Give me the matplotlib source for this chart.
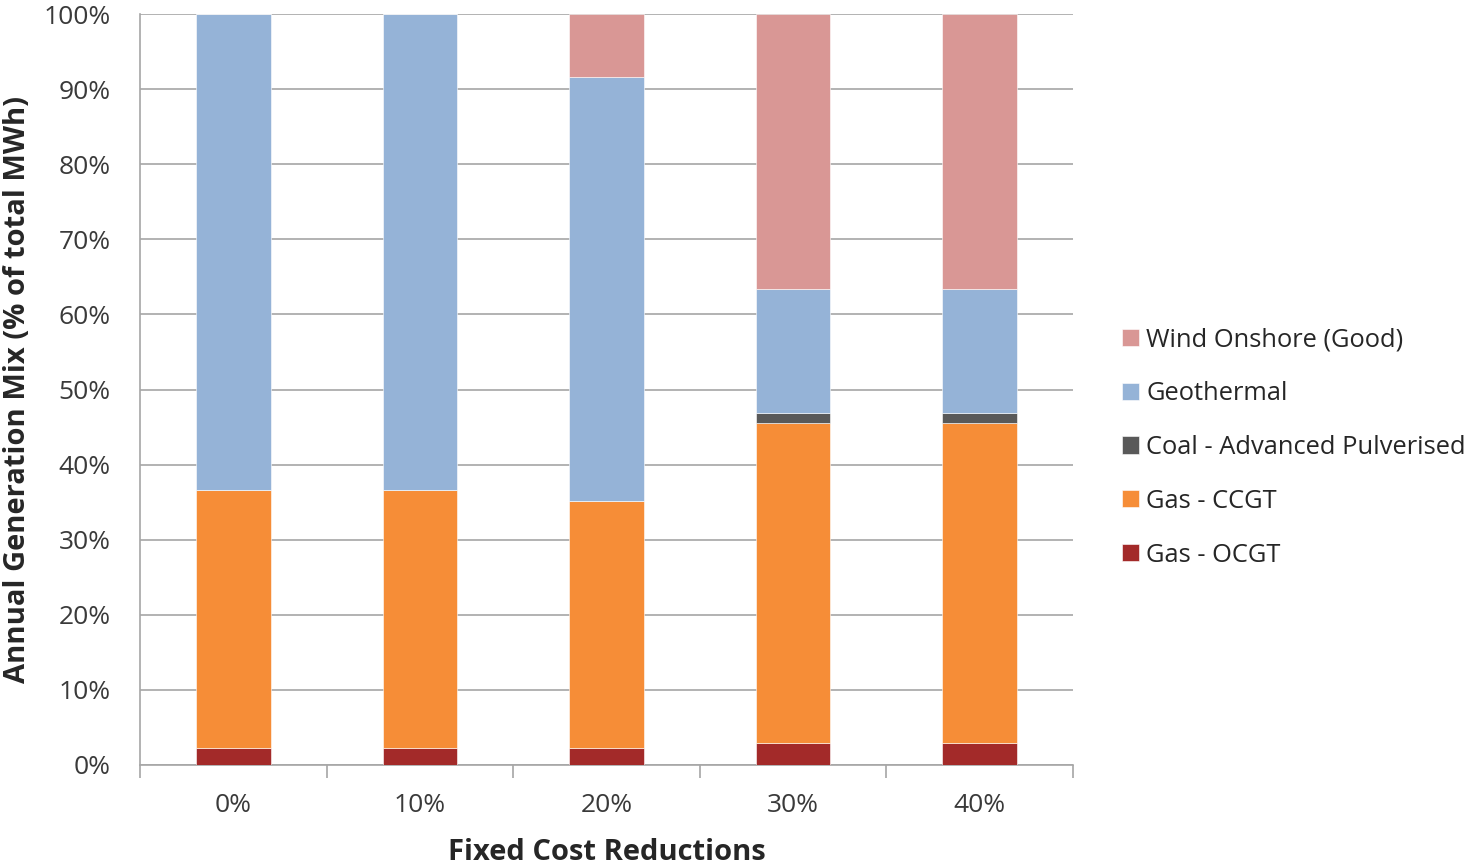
import matplotlib
matplotlib.use("Agg")
import matplotlib.pyplot as plt
import numpy as np

plt.rcParams['font.family'] = ['Open Sans', 'DejaVu Sans']

categories = ["0%", "10%", "20%", "30%", "40%"]
gas_ocgt = [2.3, 2.3, 2.3, 2.9, 2.9]
gas_ccgt = [34.3, 34.3, 32.8, 42.7, 42.7]
coal_apc = [0.0, 0.0, 0.0, 1.3, 1.3]
geothermal = [63.4, 63.4, 56.5, 16.5, 16.5]
wind_onshore = [0.0, 0.0, 8.4, 36.6, 36.6]

series = [
    ("Gas - OCGT", gas_ocgt, "#A32A29"),
    ("Gas - CCGT", gas_ccgt, "#F68D37"),
    ("Coal - Advanced Pulverised", coal_apc, "#595959"),
    ("Geothermal", geothermal, "#95B3D7"),
    ("Wind Onshore (Good)", wind_onshore, "#D99795"),
]

fig = plt.figure(figsize=(14.7, 8.67), dpi=100)
ax = fig.add_axes([140/1470, 1 - 765/867, (1073 - 140)/1470, (765 - 14)/867])

x = np.arange(len(categories))
bottom = np.zeros(len(categories))
handles = []
for name, vals, color in series:
    vals = np.array(vals, dtype=float)
    h = ax.bar(x, vals, width=0.4, bottom=bottom, color=color,
               edgecolor="white", linewidth=0.4, label=name, zorder=3)
    handles.append(h)
    bottom += vals

ax.set_xlim(-0.5, len(categories) - 0.5)
ax.set_ylim(0, 100)
ax.set_yticks(np.arange(0, 101, 10))
ax.set_yticklabels([f"{v}%" for v in range(0, 101, 10)])
ax.yaxis.grid(True, color="#A6A6A6", linewidth=1.2, zorder=0)
ax.set_axisbelow(True)

ax.set_xticks(x)
ax.set_xticklabels(categories)
ax.tick_params(axis="x", length=0, pad=20, labelsize=19)
ax.tick_params(axis="y", length=0, pad=21, labelsize=19)
for lbl in ax.get_xticklabels() + ax.get_yticklabels():
    lbl.set_color("#3a3a3a")

# category separator ticks below the baseline
ax.set_xticks(np.arange(-0.5, len(categories), 1.0), minor=True)
ax.tick_params(axis="x", which="minor", length=9, width=1.2, color="#A6A6A6", direction="out")

for side in ["top", "right"]:
    ax.spines[side].set_visible(False)
ax.spines["left"].set_color("#A6A6A6")
ax.spines["left"].set_linewidth(1.2)
ax.spines["bottom"].set_color("#A6A6A6")
ax.spines["bottom"].set_linewidth(1.2)

ax.set_xlabel("Fixed Cost Reductions", fontsize=21, fontweight="bold", color="#262626")
ax.xaxis.set_label_coords(0.5, -(852 - 765) / 751, transform=ax.transAxes)
ax.xaxis.label.set_verticalalignment("center")
ax.set_ylabel("Annual Generation Mix (% of total MWh)", fontsize=21, fontweight="bold",
              color="#262626")
ax.yaxis.set_label_coords((18 - 140) / 933, 0.5, transform=ax.transAxes)
ax.yaxis.label.set_verticalalignment("center")

leg = fig.legend(handles=handles[::-1], labels=[s[0] for s in series][::-1],
                 loc="upper left", bbox_to_anchor=(1112/1470, 1 - 317/867),
                 frameon=False, fontsize=18.4, handlelength=0.65, handleheight=0.65,
                 handletextpad=0.3, labelspacing=1.13, borderaxespad=0)
for t in leg.get_texts():
    t.set_color("#262626")

fig.savefig("out.png", dpi=100)
